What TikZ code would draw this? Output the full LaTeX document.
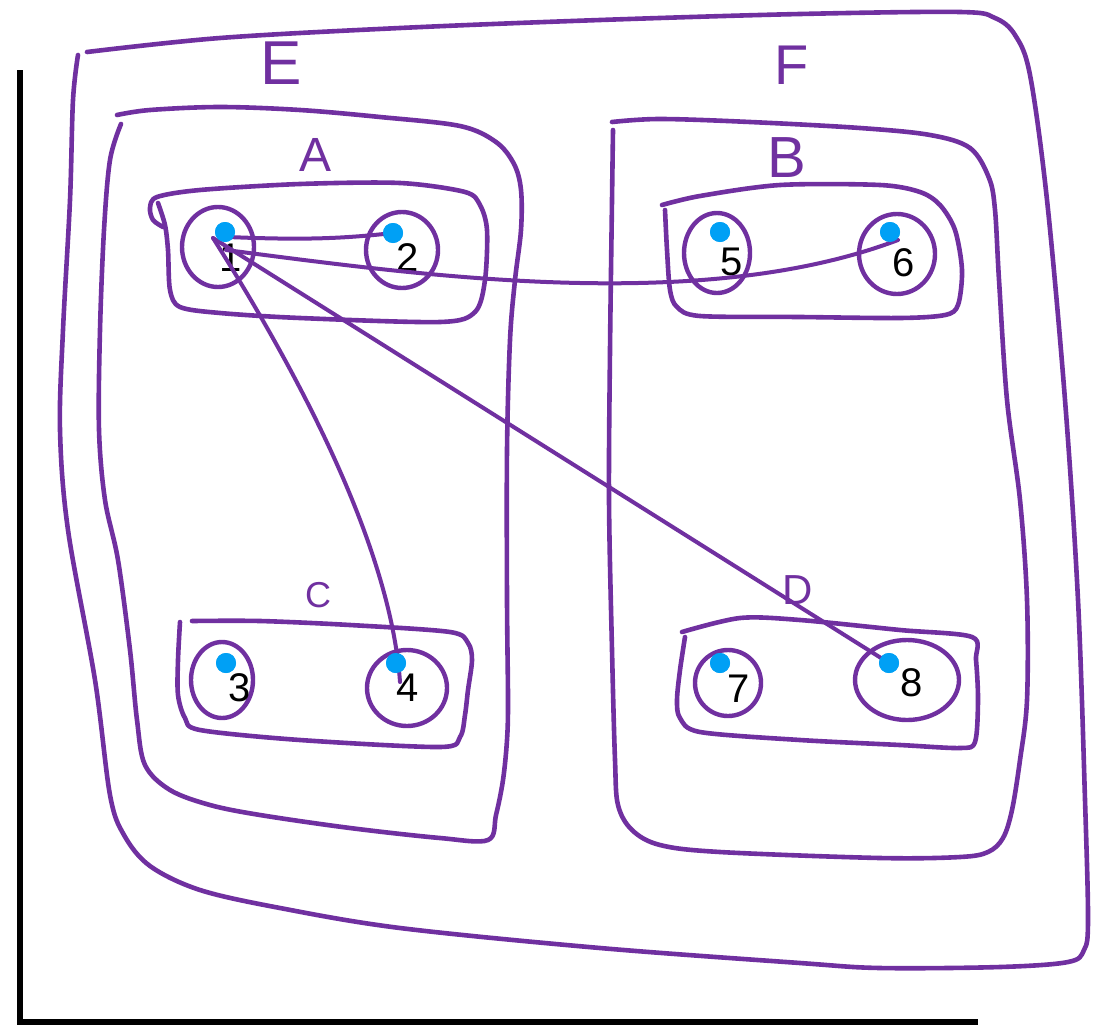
\documentclass[tikz,border=0pt]{standalone}
\usepackage{fontspec}
\setmainfont{Liberation Sans}
\usetikzlibrary{shapes.geometric}
\definecolor{ink}{RGB}{112,48,160}
\definecolor{dotblue}{RGB}{0,160,245}
\tikzset{
  hand/.style={draw=ink, line width=4.6pt, line cap=round, line join=round},
  ring/.style={ellipse, draw=ink, line width=4.4pt, inner sep=0pt},
  bluedot/.style={circle, fill=dotblue, minimum size=20pt, inner sep=0pt},
  num/.style={font=\fontsize{40}{40}\selectfont, text=black, inner sep=0pt},
  setlabel/.style={text=ink, inner sep=0pt},
  link/.style={draw=ink, line width=4pt, line cap=round},
  axisline/.style={draw=black, line width=5.5pt}
}
\begin{document}
\begin{tikzpicture}[x=1pt,y=-1pt]
\useasboundingbox (0,0) rectangle (1099,1025);
\fill[white] (0,0) rectangle (1099,1025);

% axes
\draw[axisline] (20,70) -- (20,1022) -- (978,1022);

% outer set E
\draw[hand] plot[smooth, tension=0.55] coordinates {
 (87,52) (220,38) (400,28) (600,20) (800,14) (960,12) (995,18) (1015,35)
 (1030,75) (1047,200) (1065,400) (1078,600) (1085,800) (1088,920) (1084,950)
 (1068,962) (1000,967) (880,968) (800,963) (600,948) (400,928) (280,908)
 (200,890) (150,866) (124,835) (110,795) (95,680) (68,530) (60,430) (63,330)
 (70,200) (73,100) (78,55)};

% set A
\draw[hand] plot[smooth, tension=0.55] coordinates {
 (121,124) (110,160) (104,230) (100,330) (99,430) (105,500) (118,560)
 (130,650) (137,720) (145,765) (170,790) (210,805) (260,815) (350,828)
 (440,838) (488,840) (496,815) (503,780) (507,740) (508,700) (507,600)
 (507,450) (510,340) (515,280) (521,230) (521,190) (514,164) (496,142)
 (460,126) (380,117) (300,110) (220,107) (150,110) (117,115)};

% set F
\draw[hand] plot[smooth, tension=0.55] coordinates {
 (613,130) (612,200) (610,350) (609,500) (612,650) (615,760) (618,805)
 (632,830) (660,845) (720,852) (880,858) (960,857) (988,852) (1003,838)
 (1012,810) (1020,760) (1027,700) (1027,600) (1020,500) (1007,400)
 (999,280) (995,210) (989,178) (970,148) (930,135) (860,128) (750,122)
 (660,119) (612,122)};

% set (1,2) box
\draw[hand] plot[smooth, tension=0.5] coordinates {
 (158,203) (165,225) (168,250) (170,290) (180,307) (220,313) (300,318)
 (440,322) (475,312) (485,280) (487,230) (480,205) (465,192) (400,183)
 (300,184) (200,190) (157,197) (150,208) (153,220) (163,227)};

% set B box
\draw[hand] plot[smooth, tension=0.5] coordinates {
 (665,210) (667,250) (670,290) (677,307) (700,316) (800,317) (900,318)
 (945,315) (958,305) (962,270) (955,230) (940,205) (920,192) (880,185)
 (780,185) (700,196) (662,205)};

% set C box
\draw[hand] plot[smooth, tension=0.5] coordinates {
 (180,622) (178,660) (178,695) (185,718) (200,730) (300,740) (440,747)
 (460,737) (465,715) (468,690) (472,660) (468,643) (450,632) (350,625)
 (260,621) (192,621)};

% set D box
\draw[hand] plot[smooth, tension=0.5] coordinates {
 (685,637) (680,670) (677,700) (680,718) (700,732) (800,740) (900,745)
 (960,748) (975,742) (978,700) (976,660) (972,637) (900,630) (800,620)
 (740,618) (682,632)};

% set letters
\node[setlabel, font=\fontsize{62}{62}\selectfont] (lE) at (281,63) {E};
\node[setlabel, font=\fontsize{56}{56}\selectfont] (lF) at (792,65) {F};
\node[setlabel, font=\fontsize{48}{48}\selectfont] (lA) at (316,155) {A};
\node[setlabel, font=\fontsize{58}{58}\selectfont] (lB) at (787,158) {B};
\node[setlabel, font=\fontsize{36}{36}\selectfont] (lC) at (318,595) {C};
\node[setlabel, font=\fontsize{42}{42}\selectfont] (lD) at (798,590) {D};

% element rings
\node[ring, minimum width=72pt, minimum height=80pt] (c1) at (218,247) {};
\node[ring, minimum width=72pt, minimum height=76pt] (c2) at (402,250) {};
\node[ring, minimum width=66pt, minimum height=80pt] (c5) at (717,253) {};
\node[ring, minimum width=76pt, minimum height=80pt] (c6) at (897,254) {};
\node[ring, minimum width=62pt, minimum height=76pt] (c3) at (222,680) {};
\node[ring, minimum width=80pt, minimum height=76pt] (c4) at (407,688) {};
\node[ring, minimum width=66pt, minimum height=66pt] (c7) at (728,683) {};
\node[ring, minimum width=104pt, minimum height=80pt] (c8) at (907,680) {};

% numbers
\node[num] (n1) at (231,258) {1};
\node[num] (n2) at (408,258) {2};
\node[num] (n5) at (732,262) {5};
\node[num] (n6) at (904,263) {6};
\node[num] (n3) at (240,688) {3};
\node[num] (n4) at (408,688) {4};
\node[num] (n7) at (739,689) {7};
\node[num] (n8) at (912,683) {8};

% anchor points for connector ends
\coordinate (o1) at (213,238);
\coordinate (o1a) at (228,237);
\coordinate (o1b) at (226,250);
\coordinate (e4) at (400,682);
\coordinate (e6) at (898,240);

% dots
\node[bluedot] (d1) at (225,232) {};
\node[bluedot] (d2) at (393,233) {};
\node[bluedot] (d5) at (720,232) {};
\node[bluedot] (d6) at (890,232) {};
\node[bluedot] (d3) at (226,663) {};
\node[bluedot] (d4) at (396,663) {};
\node[bluedot] (d7) at (720,663) {};
\node[bluedot] (d8) at (889,663) {};

% connectors
\draw[link] (o1a) .. controls (300,240) and (340,239) .. (d2.center);
\draw[link] (o1b) .. controls (420,275) and (700,315) .. (e6);
\draw[link] (o1) .. controls (290,360) and (390,540) .. (e4);
\draw[link] (o1) -- (d8.center);

% dots on top of the connectors
\foreach \d in {d1,d2,d5,d6,d3,d4,d7,d8}
  \fill[dotblue] (\d) circle (10pt);
\end{tikzpicture}
\end{document}
